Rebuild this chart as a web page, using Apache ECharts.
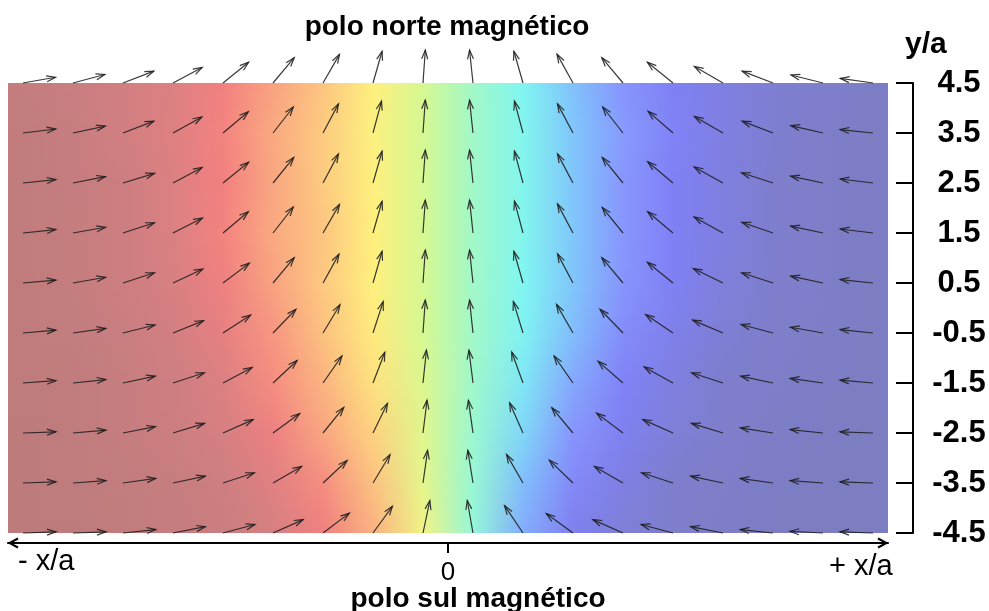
<!DOCTYPE html>
<html>
<head>
<meta charset="utf-8">
<script src="https://cdn.jsdelivr.net/npm/echarts@6/dist/echarts.min.js"></script>
<style>
  html, body { margin: 0; padding: 0; background: #fff; }
  #chart { width: 989px; height: 611px; }
</style>
</head>
<body>
<div id="chart"></div>
<script>
// Sample columns of the field (x/a)
const xColumns = [-8.5, -7.5, -6.5, -5.5, -4.5, -3.5, -2.5, -1.5, -0.5,
                  0.5, 1.5, 2.5, 3.5, 4.5, 5.5, 6.5, 7.5, 8.5];

// Sample rows (y/a), top to bottom; also the right-hand tick labels
const yTickLabels = ['4.5', '3.5', '2.5', '1.5', '0.5', '-0.5', '-1.5', '-2.5', '-3.5', '-4.5'];

// Field direction at each sample, degrees counter-clockwise from +x (one row per y tick)
const fieldAngles = [
  [10, 15, 21, 28, 39, 50, 60, 74, 86, 96, 106, 119, 130, 141, 150, 159, 166, 172],
  [ 7, 12, 21, 29, 40, 52, 62, 75, 86, 96, 105, 118, 128, 139, 150, 159, 167, 174],
  [ 6, 11, 17, 28, 39, 51, 62, 74, 86, 96, 105, 118, 129, 140, 151, 162, 168, 173],
  [ 6, 10, 18, 27, 40, 52, 60, 74, 86, 96, 105, 118, 129, 140, 151, 161, 168, 173],
  [ 5, 10, 18, 25, 37, 50, 61, 74, 86, 96, 106, 118, 130, 141, 154, 162, 168, 174],
  [ 5,  8, 14, 22, 33, 46, 59, 72, 86, 96, 107, 120, 134, 146, 157, 165, 170, 174],
  [ 4,  6, 12, 18, 28, 43, 55, 69, 84, 97, 110, 125, 139, 151, 162, 168, 172, 175],
  [ 2,  5, 11, 17, 24, 36, 51, 64, 83, 98, 114, 130, 143, 156, 163, 171, 174, 178],
  [ 2,  4,  8, 12, 18, 30, 43, 59, 82, 99, 120, 136, 150, 162, 168, 172, 176, 178],
  [ 2,  2,  6, 11, 15, 24, 37, 54, 78, 100, 124, 144, 156, 165, 169, 174, 177, 178]
];

// Colour ramp for the field direction (degrees -> colour)
const angleColorStops = [
  [0, '#bc7b7b'], [15, '#c97e80'], [28, '#dc8082'], [39, '#f38080'],
  [50, '#f9a281'], [61, '#fdc880'], [74, '#fff07e'], [86, '#d6f892'],
  [96, '#a2f8c8'], [106, '#80f6f2'], [118, '#80c6fb'], [129, '#8896fe'],
  [140, '#8080f6'], [151, '#7f7fe0'], [162, '#7e7ecd'], [180, '#7d7dc0']
];

// Horizontal extent of the shaded panel (x/a)
const xExtent = [-8.8, 8.8];

const FONT = '"Liberation Sans", Arial, Helvetica, sans-serif';

function hexToRgb(h) {
  return [parseInt(h.slice(1, 3), 16), parseInt(h.slice(3, 5), 16), parseInt(h.slice(5, 7), 16)];
}
const rampRgb = angleColorStops.map(s => [s[0], hexToRgb(s[1])]);

function angleColor(a) {
  if (a <= rampRgb[0][0]) return rampRgb[0][1];
  for (let i = 1; i < rampRgb.length; i++) {
    if (a <= rampRgb[i][0]) {
      const [a0, c0] = rampRgb[i - 1], [a1, c1] = rampRgb[i];
      const t = (a - a0) / (a1 - a0);
      return c0.map((v, k) => v + (c1[k] - v) * t);
    }
  }
  return rampRgb[rampRgb.length - 1][1];
}
function rgbStr(c) {
  return 'rgb(' + c.map(v => Math.round(v)).join(',') + ')';
}

// Background: colour of the field direction, shaded between neighbouring rows
function renderBackground(params, api) {
  const j = api.value(1);
  const last = yTickLabels.length - 1;
  if (j >= last) return null;
  const yTop = Math.round(api.coord([0, j])[1]);
  const yBot = Math.round(api.coord([0, j + 1])[1]);
  const xl = api.coord([xExtent[0], j])[0];
  const xr = api.coord([xExtent[1], j])[0];
  const w = xr - xl;
  const offs = xColumns.map(x => (api.coord([x, j])[0] - xl) / w);
  const ca = fieldAngles[j].map(angleColor);
  const cb = fieldAngles[j + 1].map(angleColor);
  const children = [];
  const span = yBot - yTop;
  const step = 2;
  for (let y = 0; y < span; y += step) {
    const t = (y + step / 2) / span;
    const cols = ca.map((c, k) => c.map((v, m) => v + (cb[k][m] - v) * t));
    const stops = [{ offset: 0, color: rgbStr(cols[0]) }];
    offs.forEach((o, k) => stops.push({ offset: o, color: rgbStr(cols[k]) }));
    stops.push({ offset: 1, color: rgbStr(cols[cols.length - 1]) });
    const h = Math.min(step, span - y);
    const extra = (j === last - 1 && y + step >= span) ? 0 : 1;
    children.push({
      type: 'rect',
      shape: { x: Math.round(xl), y: yTop + y, width: Math.round(w), height: h + extra },
      style: { fill: new echarts.graphic.LinearGradient(0, 0, 1, 0, stops) }
    });
  }
  return { type: 'group', children };
}

// One arrow per sample, drawn from its tail
function renderArrow(params, api) {
  const p = api.coord([api.value(0), api.value(1)]);
  const a = api.value(2) * Math.PI / 180;
  const dx = Math.cos(a), dy = -Math.sin(a);
  const len = 33, headLen = 9, headHalf = 3;
  const tip = [p[0] + dx * len, p[1] + dy * len];
  const base = [tip[0] - dx * headLen, tip[1] - dy * headLen];
  const nx = -dy, ny = dx;
  const style = { stroke: '#1e1e1e', lineWidth: 1.2, fill: null, opacity: 0.88 };
  return {
    type: 'group',
    children: [
      { type: 'line', shape: { x1: p[0], y1: p[1], x2: tip[0], y2: tip[1] }, style },
      {
        type: 'polyline',
        shape: { points: [[base[0] + nx * headHalf, base[1] + ny * headHalf], tip,
                          [base[0] - nx * headHalf, base[1] - ny * headHalf]] },
        style
      }
    ]
  };
}

const arrowData = [];
fieldAngles.forEach((row, j) => row.forEach((ang, k) => arrowData.push([xColumns[k], j, ang])));
const rowData = yTickLabels.map((_, j) => [0, j]);

const chevron = 'path://M5,0 L10,9 L8.2,10 L5,3.8 L1.8,10 L0,9 Z';

const chart = echarts.init(document.getElementById('chart'), null, { renderer: 'canvas' });
chart.setOption({
  animation: false,
  backgroundColor: '#fff',
  grid: { left: 8, right: 101, top: 83, bottom: 78, containLabel: false },
  xAxis: {
    type: 'value',
    min: xExtent[0],
    max: xExtent[1],
    position: 'bottom',
    offset: 10,
    z: 5,
    splitLine: { show: false },
    axisLine: {
      show: true,
      onZero: false,
      lineStyle: { color: '#000', width: 2 },
      symbol: [chevron, chevron],
      symbolSize: [11, 11],
      symbolOffset: [5, -5]
    },
    axisTick: { show: true, customValues: [0], length: 10, lineStyle: { color: '#000', width: 2 } },
    axisLabel: {
      show: true, customValues: [0], color: '#000', fontSize: 26,
      fontFamily: FONT, margin: 17, formatter: v => String(v)
    }
  },
  yAxis: {
    type: 'category',
    data: yTickLabels,
    inverse: true,
    boundaryGap: false,
    position: 'right',
    offset: 25,
    z: 5,
    splitLine: { show: false },
    axisLine: { show: true, onZero: false, lineStyle: { color: '#000', width: 2 } },
    axisTick: { show: true, inside: true, length: 17, interval: 0, lineStyle: { color: '#000', width: 2 } },
    axisLabel: {
      show: true, interval: 0, color: '#000', fontSize: 31, fontWeight: 'bold',
      fontFamily: FONT, align: 'center', margin: 46
    }
  },
  graphic: [
    { type: 'text', x: 447, y: 27,
      style: { text: 'polo norte magnético', font: 'bold 28px ' + FONT, fill: '#000', align: 'center', verticalAlign: 'middle' } },
    { type: 'text', x: 478, y: 599,
      style: { text: 'polo sul magnético', font: 'bold 28px ' + FONT, fill: '#000', align: 'center', verticalAlign: 'middle' } },
    { type: 'text', x: 905, y: 45,
      style: { text: 'y/a', font: 'bold 30px ' + FONT, fill: '#000', align: 'left', verticalAlign: 'middle' } },
    { type: 'text', x: 18, y: 562,
      style: { text: '- x/a', font: '29px ' + FONT, fill: '#000', align: 'left', verticalAlign: 'middle' } },
    { type: 'text', x: 829, y: 567,
      style: { text: '+ x/a', font: '29px ' + FONT, fill: '#000', align: 'left', verticalAlign: 'middle' } }
  ],
  series: [
    {
      type: 'custom',
      name: 'campo',
      renderItem: renderBackground,
      data: rowData,
      encode: { x: 0, y: 1 },
      silent: true,
      z: 1
    },
    {
      type: 'custom',
      name: 'vetores',
      renderItem: renderArrow,
      data: arrowData,
      encode: { x: 0, y: 1 },
      silent: true,
      clip: false,
      z: 3
    }
  ]
});
</script>
</body>
</html>
